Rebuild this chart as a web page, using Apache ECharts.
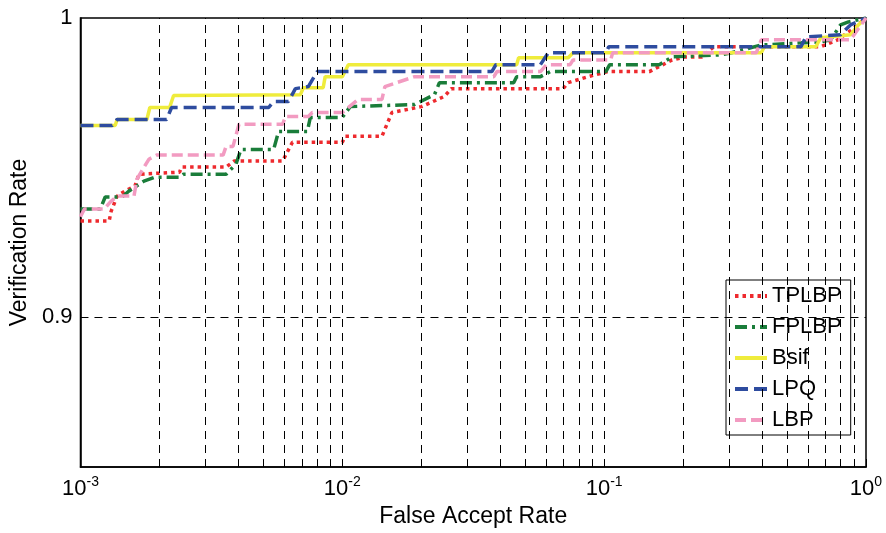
<!DOCTYPE html>
<html>
<head>
<meta charset="utf-8">
<script src="https://cdn.jsdelivr.net/npm/echarts@6/dist/echarts.min.js"></script>
<style>
    html, body { margin: 0; padding: 0; background: #fff; }
    #chart { width: 886px; height: 533px; }
</style>
</head>
<body>
<div id="chart"></div>
<script>
    // values: false accept rate / verification rate pairs
    var tplbpFar = [0.001, 0.001287, 0.00131, 0.00138, 0.00148, 0.001615, 0.001672, 0.00239, 0.002432, 0.003598, 0.003858, 0.005913, 0.006449, 0.01, 0.01026, 0.01417, 0.01546, 0.02007, 0.02454, 0.02607, 0.06975, 0.07286, 0.08672, 0.1032, 0.1488, 0.1818, 0.2036, 0.2362, 0.2621, 0.6717, 0.7786, 0.9111, 1];
    var tplbpVr = [0.9322, 0.9322, 0.9355, 0.9405, 0.9422, 0.9439, 0.9478, 0.9485, 0.9502, 0.9502, 0.9522, 0.9522, 0.9585, 0.9585, 0.9605, 0.9605, 0.9684, 0.9704, 0.9738, 0.9764, 0.9764, 0.9784, 0.9804, 0.9821, 0.9821, 0.986, 0.987, 0.987, 0.9904, 0.9904, 0.9927, 0.997, 1];

    var fplbpFar = [0.001, 0.00119, 0.001243, 0.001441, 0.001532, 0.001747, 0.001922, 0.00239, 0.002474, 0.003598, 0.003926, 0.004101, 0.005467, 0.00571, 0.007351, 0.007546, 0.01, 0.01072, 0.01889, 0.02248, 0.02349, 0.04512, 0.04632, 0.0571, 0.06229, 0.1015, 0.105, 0.1624, 0.1818, 0.2811, 0.3066, 0.3982, 0.6717, 0.7328, 0.7992, 0.8573, 1];
    var fplbpVr = [0.9362, 0.9362, 0.9402, 0.9402, 0.9422, 0.9455, 0.9468, 0.9468, 0.9478, 0.9478, 0.9512, 0.9561, 0.9561, 0.9621, 0.9621, 0.9668, 0.9668, 0.9704, 0.9711, 0.9744, 0.9784, 0.9784, 0.9804, 0.9804, 0.9821, 0.9821, 0.9844, 0.9844, 0.987, 0.9877, 0.9884, 0.991, 0.992, 0.9927, 0.9977, 0.9987, 1];

    var bsifFar = [0.001, 0.001357, 0.00138, 0.001793, 0.00184, 0.00219, 0.002268, 0.006917, 0.007099, 0.008451, 0.0086, 0.01, 0.01054, 0.04632, 0.04713, 0.07286, 0.0761, 0.3982, 0.4088, 0.6431, 0.6717, 0.8723, 0.9352, 1];
    var bsifVr = [0.9641, 0.9641, 0.9661, 0.9661, 0.9701, 0.9701, 0.9741, 0.9744, 0.9767, 0.9767, 0.9804, 0.9804, 0.9844, 0.9844, 0.9867, 0.9867, 0.9884, 0.9884, 0.9904, 0.9904, 0.9934, 0.9944, 0.9977, 1];

    var lpqFar = [0.001, 0.001322, 0.00138, 0.002133, 0.002228, 0.005234, 0.005467, 0.006229, 0.00662, 0.007416, 0.008021, 0.03726, 0.03859, 0.0571, 0.06121, 0.1015, 0.1041, 0.5643, 0.5895, 0.7992, 0.8723, 1];
    var lpqVr = [0.9641, 0.9641, 0.9661, 0.9661, 0.9701, 0.9701, 0.9721, 0.9721, 0.9764, 0.9771, 0.9821, 0.9821, 0.9844, 0.9844, 0.9884, 0.9884, 0.9904, 0.9904, 0.9937, 0.9944, 0.9977, 1];

    var lbpFar = [0.001, 0.001035, 0.001232, 0.001299, 0.00138, 0.001601, 0.001643, 0.001824, 0.001956, 0.003505, 0.003598, 0.003824, 0.00403, 0.005913, 0.006069, 0.007416, 0.007679, 0.01, 0.0115, 0.01417, 0.01454, 0.01889, 0.03792, 0.03892, 0.0571, 0.06015, 0.07413, 0.0761, 0.1059, 0.1078, 0.3813, 0.3982, 0.8723, 1];
    var lbpVr = [0.9336, 0.9362, 0.9362, 0.9385, 0.9405, 0.9405, 0.9462, 0.9528, 0.9542, 0.9542, 0.9571, 0.9571, 0.9645, 0.9645, 0.9671, 0.9671, 0.9684, 0.9684, 0.9728, 0.9728, 0.9771, 0.9804, 0.9804, 0.9821, 0.9821, 0.9844, 0.9844, 0.986, 0.986, 0.9884, 0.9884, 0.9927, 0.9927, 1];

    // tick labels and grid positions
    var xTickExp = ['-3', '-2', '-1', '0'];
    var yTickVals = [0.9, 1];
    var yTickLabels = ['0.9', '1'];
    var gridFar = [0.002, 0.003, 0.004, 0.005, 0.006, 0.007, 0.008, 0.009, 0.01,
                   0.02, 0.03, 0.04, 0.05, 0.06, 0.07, 0.08, 0.09, 0.1,
                   0.2, 0.3, 0.4, 0.5, 0.6, 0.7, 0.8, 0.9];
    var gridVr = [0.9];

    var legendNames = ['TPLBP', 'FPLBP', 'Bsif', 'LPQ', 'LBP'];

    var FONT = '"Liberation Sans", Arial, Helvetica, sans-serif';

    function zip(a, b) {
        return a.map(function (v, i) { return [v, b[i]]; });
    }

    function curve(name, far, vr, color, dash) {
        return {
            name: name,
            type: 'line',
            data: zip(far, vr),
            symbol: 'none',
            z: 3,
            lineStyle: { color: color, width: 3.5, type: dash },
            itemStyle: { color: color },
            emphasis: { disabled: true }
        };
    }

    var chart = echarts.init(document.getElementById('chart'));

    var markData = gridFar.map(function (v) { return { xAxis: v }; })
        .concat(gridVr.map(function (v) { return { yAxis: v }; }));

    var option = {
        animation: false,
        backgroundColor: '#fff',
        textStyle: { fontFamily: FONT },
        grid: {
            left: 73, right: 20, top: 18, bottom: 63,
            show: true, borderColor: '#000', borderWidth: 1.5
        },
        legend: {
            data: legendNames,
            orient: 'vertical',
            left: 726, top: 280,
            backgroundColor: '#fff',
            borderColor: '#000', borderWidth: 1,
            padding: [5, 9, 4, 7],
            itemWidth: 32, itemHeight: 14, itemGap: 9,
            itemStyle: { opacity: 0 },
            lineStyle: { width: 4 },
            textStyle: { fontSize: 22, lineHeight: 22, color: '#000', fontFamily: FONT }
        },
        xAxis: {
            type: 'log', logBase: 10, min: 0.001, max: 1,
            axisLine: { show: true, lineStyle: { color: '#000', width: 1.5 } },
            axisTick: { show: true, inside: true, length: 8, lineStyle: { color: '#000' } },
            splitLine: { show: false },
            axisLabel: {
                margin: 8,
                formatter: function (v) {
                    var i = Math.round(Math.log10(v)) + 3;
                    return '{b|10}{s|' + xTickExp[i] + '}';
                },
                rich: {
                    b: { fontSize: 22, color: '#000', fontFamily: FONT },
                    s: { fontSize: 14, color: '#000', fontFamily: FONT, padding: [0, 0, 14, 0] }
                }
            },
            name: 'False Accept Rate',
            nameLocation: 'middle', nameGap: 38,
            nameTextStyle: { fontSize: 23, color: '#000', fontFamily: FONT }
        },
        yAxis: {
            type: 'value', min: 0.85, max: 1, interval: 0.05,
            axisLine: { show: true, lineStyle: { color: '#000', width: 1.5 } },
            axisTick: { show: false },
            splitLine: { show: false },
            axisLabel: {
                margin: 8, fontSize: 22, color: '#000', fontFamily: FONT,
                formatter: function (v) {
                    for (var i = 0; i < yTickVals.length; i++) {
                        if (Math.abs(v - yTickVals[i]) < 1e-6) return yTickLabels[i];
                    }
                    return '';
                }
            },
            name: 'Verification Rate',
            nameLocation: 'middle', nameGap: 42,
            nameTextStyle: { fontSize: 23, color: '#000', fontFamily: FONT }
        },
        series: [
            {
                // carrier for the dashed grid lines
                name: 'grid', type: 'line', data: [[0.001, 0.85]],
                symbol: 'none', silent: true, z: 1,
                lineStyle: { opacity: 0 },
                markLine: {
                    silent: true, symbol: ['none', 'none'],
                    precision: 6,
                    label: { show: false },
                    emphasis: { disabled: true },
                    lineStyle: { color: '#000', width: 1, type: [8, 6] },
                    data: markData
                }
            },
            curve('TPLBP', tplbpFar, tplbpVr, '#ee2a2e', [3.5, 4]),
            curve('FPLBP', fplbpFar, fplbpVr, '#1a7d3a', [12, 5, 3, 5]),
            curve('Bsif', bsifFar, bsifVr, '#efec3c', 'solid'),
            curve('LPQ', lpqFar, lpqVr, '#2e4c9f', [13, 6]),
            curve('LBP', lbpFar, lbpVr, '#f29bc1', [11, 5])
        ]
    };

    chart.setOption(option);
</script>
</body>
</html>
